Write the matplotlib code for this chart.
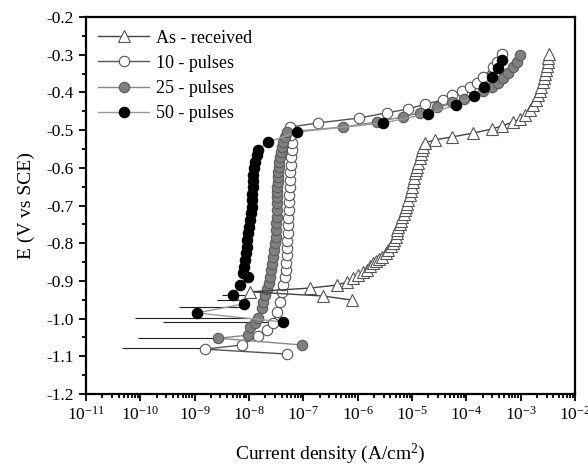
import matplotlib
matplotlib.use("Agg")
import matplotlib.pyplot as plt
import numpy as np
from matplotlib.ticker import LogLocator, MultipleLocator, FormatStrFormatter, NullFormatter

plt.rcParams['font.family'] = ['Liberation Serif', 'DejaVu Serif']
plt.rcParams['mathtext.fontset'] = 'custom'
plt.rcParams['mathtext.rm'] = 'Liberation Serif'
plt.rcParams['mathtext.it'] = 'Liberation Serif:italic'

# log10 of current density (A/cm2) and potential (V vs SCE)
asr_logi = [-6.10, -6.64, -7.98, -6.88, -6.38, -6.20, -6.09, -5.99, -5.90, -5.83,
            -5.77, -5.72, -5.66, -5.61, -5.55, -5.48, -5.44, -5.39, -5.35, -5.33,
            -5.29, -5.28, -5.28, -5.26, -5.22, -5.20, -5.18, -5.15, -5.13, -5.11,
            -5.09, -5.07, -5.04, -5.02, -5.00, -4.98, -4.96, -4.94, -4.93, -4.91,
            -4.89, -4.85, -4.83, -4.82, -4.80, -4.76, -4.58, -4.26, -3.88, -3.53,
            -3.34, -3.14, -3.01, -2.92, -2.83, -2.77, -2.72, -2.68, -2.64, -2.63,
            -2.59, -2.57, -2.55, -2.53, -2.51, -2.50, -2.50, -2.48]
asr_E = [-0.951, -0.940, -0.929, -0.919, -0.911, -0.903, -0.892, -0.884, -0.876, -0.871,
         -0.860, -0.853, -0.847, -0.842, -0.837, -0.826, -0.818, -0.807, -0.799, -0.792,
         -0.784, -0.773, -0.765, -0.757, -0.749, -0.741, -0.731, -0.723, -0.712, -0.704,
         -0.696, -0.685, -0.672, -0.662, -0.651, -0.638, -0.627, -0.614, -0.606, -0.598,
         -0.587, -0.574, -0.563, -0.553, -0.545, -0.534, -0.526, -0.518, -0.508, -0.497,
         -0.489, -0.478, -0.471, -0.460, -0.447, -0.433, -0.420, -0.407, -0.396, -0.386,
         -0.372, -0.362, -0.351, -0.341, -0.330, -0.319, -0.309, -0.298]

p10_logi = [-7.30, -8.81, -8.13, -7.83, -7.67, -7.56, -7.48, -7.43, -7.39, -7.37,
            -7.34, -7.32, -7.32, -7.30, -7.30, -7.30, -7.28, -7.28, -7.28, -7.26,
            -7.26, -7.26, -7.25, -7.25, -7.25, -7.23, -7.23, -7.21, -7.21, -7.23,
            -7.25, -6.73, -5.98, -5.46, -5.07, -4.76, -4.43, -4.26, -4.08, -3.93,
            -3.80, -3.69, -3.51, -3.44, -3.34]
p10_E = [-1.094, -1.081, -1.070, -1.046, -1.030, -1.012, -0.982, -0.956, -0.929, -0.911,
         -0.890, -0.871, -0.853, -0.831, -0.813, -0.794, -0.773, -0.752, -0.733, -0.712,
         -0.691, -0.672, -0.651, -0.632, -0.611, -0.593, -0.571, -0.553, -0.534, -0.513,
         -0.492, -0.481, -0.468, -0.454, -0.444, -0.431, -0.420, -0.407, -0.396, -0.386,
         -0.375, -0.359, -0.333, -0.319, -0.298]

p25_logi = [-7.02, -8.57, -8.02, -7.98, -7.89, -7.83, -7.76, -7.74, -7.71, -7.67,
            -7.63, -7.61, -7.59, -7.58, -7.56, -7.54, -7.52, -7.50, -7.50, -7.50,
            -7.48, -7.48, -7.48, -7.48, -7.48, -7.48, -7.47, -7.47, -7.47, -7.45,
            -7.45, -7.43, -7.41, -7.39, -7.37, -7.34, -7.30, -6.27, -5.64, -5.17,
            -4.85, -4.54, -4.26, -4.04, -3.69, -3.53, -3.42, -3.32, -3.23, -3.14,
            -3.07, -3.01]
p25_E = [-1.070, -1.052, -1.044, -1.022, -1.012, -0.998, -0.972, -0.956, -0.937, -0.921,
         -0.906, -0.890, -0.871, -0.855, -0.837, -0.818, -0.799, -0.784, -0.765, -0.746,
         -0.731, -0.712, -0.693, -0.677, -0.664, -0.651, -0.638, -0.624, -0.611, -0.598,
         -0.585, -0.571, -0.558, -0.545, -0.532, -0.518, -0.505, -0.492, -0.478, -0.465,
         -0.454, -0.439, -0.425, -0.418, -0.396, -0.386, -0.375, -0.362, -0.349, -0.333,
         -0.319, -0.301]

p50_logi = [-7.37, -8.96, -8.09, -8.29, -8.17, -8.02, -8.11, -8.09, -8.07, -8.06,
            -8.04, -8.04, -8.02, -8.00, -7.98, -7.96, -7.94, -7.94, -7.94, -7.93,
            -7.93, -7.93, -7.91, -7.89, -7.85, -7.83, -7.65, -7.12, -5.53, -4.71,
            -4.19, -3.86, -3.67, -3.53, -3.42, -3.34]
p50_E = [-1.009, -0.985, -0.961, -0.937, -0.911, -0.890, -0.879, -0.863, -0.845, -0.826,
         -0.810, -0.792, -0.773, -0.757, -0.738, -0.720, -0.704, -0.685, -0.669, -0.651,
         -0.635, -0.619, -0.601, -0.585, -0.566, -0.553, -0.532, -0.505, -0.481, -0.457,
         -0.433, -0.410, -0.386, -0.359, -0.335, -0.314]

# noisy current spikes near the corrosion potentials
spike_E = [-0.937, -0.951, -0.969, -0.998, -1.009, -1.052, -1.078]
spike_lo = [-8.50, -8.59, -9.29, -10.10, -9.58, -10.04, -10.34]
spike_hi = [-8.07, -8.07, -8.17, -7.98, -7.37, -8.57, -8.81]

fig = plt.figure(figsize=(5.88, 4.73), dpi=100)
ax = fig.add_axes([0.146, 0.167, 0.832, 0.797])

ax.hlines(spike_E, 10.0 ** np.array(spike_lo), 10.0 ** np.array(spike_hi),
          colors='#222222', lw=0.8, zorder=1)

ax.plot(10.0 ** np.array(p10_logi), p10_E, '-o', color='#555555', lw=1.0,
        mfc='white', mec='#555555', ms=7.5, mew=0.8, label='10 - pulses', zorder=2)
ax.plot(10.0 ** np.array(p25_logi), p25_E, '-o', color='#888888', lw=1.0,
        mfc='#808080', mec='#5a5a5a', ms=7.5, mew=0.8, label='25 - pulses', zorder=3)
ax.plot(10.0 ** np.array(p50_logi), p50_E, '-o', color='#999999', lw=1.0,
        mfc='black', mec='black', ms=7.5, mew=0.8, label='50 - pulses', zorder=4)
ax.plot(10.0 ** np.array(asr_logi), asr_E, '-^', color='#444444', lw=1.0,
        mfc='white', mec='#555555', ms=8, mew=0.8, label='As - received', zorder=5)

ax.set_xscale('log')
ax.set_xlim(1e-11, 1e-2)
ax.set_ylim(-1.2, -0.2)
ax.xaxis.set_major_locator(LogLocator(base=10, numticks=20))
ax.xaxis.set_minor_locator(LogLocator(base=10, subs=np.arange(2, 10), numticks=20))
ax.xaxis.set_minor_formatter(NullFormatter())
ax.yaxis.set_major_locator(MultipleLocator(0.1))
ax.yaxis.set_minor_locator(MultipleLocator(0.05))
ax.yaxis.set_major_formatter(FormatStrFormatter('%.1f'))

ax.tick_params(which='both', direction='out', top=False, right=False, labelsize=12.5, width=1.3)
ax.tick_params(which='major', length=5)
ax.tick_params(which='minor', length=3)
for s in ax.spines.values():
    s.set_linewidth(1.6)

ax.set_xlabel('Current density (A/cm$^2$)', fontsize=14, labelpad=13)
ax.set_ylabel('E (V vs SCE)', fontsize=14, labelpad=8)

h, l = ax.get_legend_handles_labels()
order = [3, 0, 1, 2]
ax.legend([h[i] for i in order], [l[i] for i in order], loc='upper left', frameon=False,
          fontsize=13, handlelength=2.8, labelspacing=0.45, borderaxespad=0.3,
          handletextpad=0.4)

fig.savefig('out.png', dpi=100)
